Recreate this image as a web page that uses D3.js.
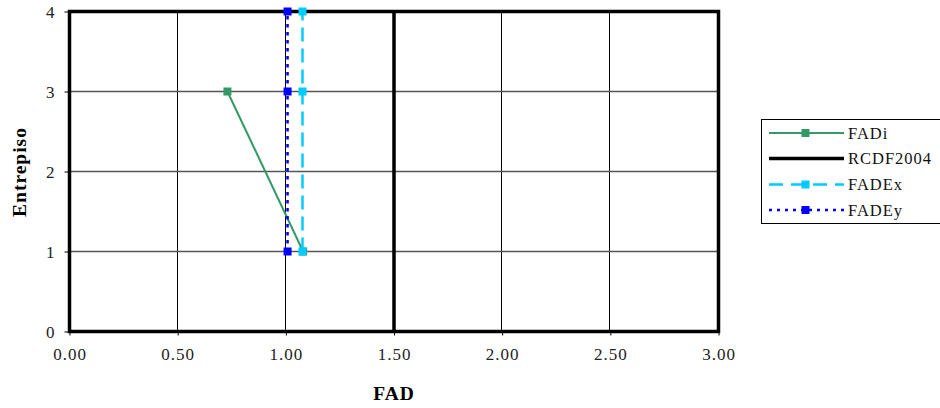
<!DOCTYPE html>
<html><head><meta charset="utf-8">
<script src="https://cdn.jsdelivr.net/npm/d3@7/dist/d3.min.js"></script>
<style>body{margin:0;background:#fff;} svg{display:block;} svg text{font-family:'Liberation Serif','Times New Roman',serif !important;}</style>
</head><body>
<svg id="c" width="940" height="408"></svg>
<script>
const xTicks = [0, 0.5, 1.0, 1.5, 2.0, 2.5, 3.0];
const yTicks = [0, 1, 2, 3, 4];
const fadiX = [0.73, 1.08];
const fadiY = [3, 1];
const rcdfX = [1.5, 1.5];
const rcdfY = [0, 4];
const fadexX = [1.077, 1.077, 1.077];
const fadexY = [1, 3, 4];
const fadeyX = [1.008, 1.008, 1.008];
const fadeyY = [1, 3, 4];
const seriesNames = ["FADi", "RCDF2004", "FADEx", "FADEy"];

const svg = d3.select("#c");
const x = d3.scaleLinear().domain([0, 3]).range([69.5, 718.5]);
const y = d3.scaleLinear().domain([0, 4]).range([331.5, 11.5]);

// grid
svg.append("g").selectAll("line").data(xTicks.filter(d => d > 0 && d < 3 && d !== 1.5)).join("line")
  .attr("x1", d => Math.round(x(d)) - 0.5).attr("x2", d => Math.round(x(d)) - 0.5).attr("y1", y(0)).attr("y2", y(4))
  .attr("stroke", "#000").attr("stroke-width", 1);
svg.append("g").selectAll("line").data(yTicks.filter(d => d > 0 && d < 4)).join("line")
  .attr("x1", x(0)).attr("x2", x(3)).attr("y1", d => y(d)).attr("y2", d => y(d))
  .attr("stroke", "#555").attr("stroke-width", 1.3);

// axes
const xAxis = svg.append("g").attr("transform", `translate(0,${y(0)})`)
  .call(d3.axisBottom(x).tickValues(xTicks).tickFormat(d3.format(".2f")).tickSize(4).tickSizeOuter(0));
const yAxis = svg.append("g").attr("transform", `translate(${x(0)},0)`)
  .call(d3.axisLeft(y).tickValues(yTicks).tickFormat(d3.format("d")).tickSize(5).tickSizeOuter(0));
[xAxis, yAxis].forEach(a => {
  a.attr("font-family", null).attr("font-size", null);
  a.select(".domain").remove();
  a.selectAll("text").attr("font-size", 17).attr("letter-spacing", "1px").attr("fill", "#222");
  a.selectAll("line").attr("stroke", "#000");
});
xAxis.selectAll("text").attr("y", 28.5).attr("dy", null);
yAxis.selectAll("text").attr("x", -14).attr("dy", "0.33em");

// frame
svg.append("rect").attr("x", x(0)).attr("y", y(4)).attr("width", x(3) - x(0)).attr("height", y(0) - y(4))
  .attr("fill", "none").attr("stroke", "#000").attr("stroke-width", 3.5);

const line = d3.line().x(d => x(d[0])).y(d => y(d[1]));
const zip = (a, b) => a.map((v, i) => [v, b[i]]);

const series = [
  {name: seriesNames[0], pts: zip(fadiX, fadiY), color: "#339966", w: 2, dash: null, marker: true},
  {name: seriesNames[1], pts: zip(rcdfX, rcdfY), color: "#000000", w: 3.5, dash: null, marker: false},
  {name: seriesNames[2], pts: zip(fadexX, fadexY), color: "#00ccff", w: 2.5, dash: "14,7", marker: true},
  {name: seriesNames[3], pts: zip(fadeyX, fadeyY), color: "#0000ff", w: 2.5, dash: "3.5,4.5", marker: true}
];

series.forEach(s => {
  svg.append("path").attr("d", line(s.pts)).attr("fill", "none").attr("stroke", s.color)
    .attr("stroke-width", s.w).attr("stroke-dasharray", s.dash);
  if (s.marker) {
    svg.append("g").selectAll("rect").data(s.pts).join("rect")
      .attr("x", d => x(d[0]) - 4).attr("y", d => y(d[1]) - 4).attr("width", 8).attr("height", 8)
      .attr("fill", s.color);
  }
});

// axis titles
svg.append("text").attr("x", 394).attr("y", 400).attr("text-anchor", "middle")
  .attr("font-size", 19.5).attr("letter-spacing", "1px").attr("font-weight", "bold").text("FAD");
svg.append("text").attr("transform", "translate(26,172) rotate(-90)").attr("text-anchor", "middle")
  .attr("font-size", 19.5).attr("letter-spacing", "1px").attr("font-weight", "bold").text("Entrepiso");

// legend
const lg = svg.append("g");
lg.append("rect").attr("x", 761.5).attr("y", 119.5).attr("width", 200).attr("height", 104)
  .attr("fill", "#fff").attr("stroke", "#000").attr("stroke-width", 1);
const rowY = [133, 158.5, 184.5, 210];
const legDash = [null, null, "14,8", "3,5"];
series.forEach((s, i) => {
  lg.append("line").attr("x1", 769).attr("x2", 844).attr("y1", rowY[i]).attr("y2", rowY[i])
    .attr("stroke", s.color).attr("stroke-width", s.w).attr("stroke-dasharray", legDash[i]);
  if (s.marker) lg.append("rect").attr("x", 801.5).attr("y", rowY[i] - 4).attr("width", 8).attr("height", 8).attr("fill", s.color);
  lg.append("text").attr("x", 848).attr("y", rowY[i] + 5.5).attr("font-size", 16.5).attr("letter-spacing", "1px").attr("fill", "#111").text(s.name);
});
</script>
</body></html>
